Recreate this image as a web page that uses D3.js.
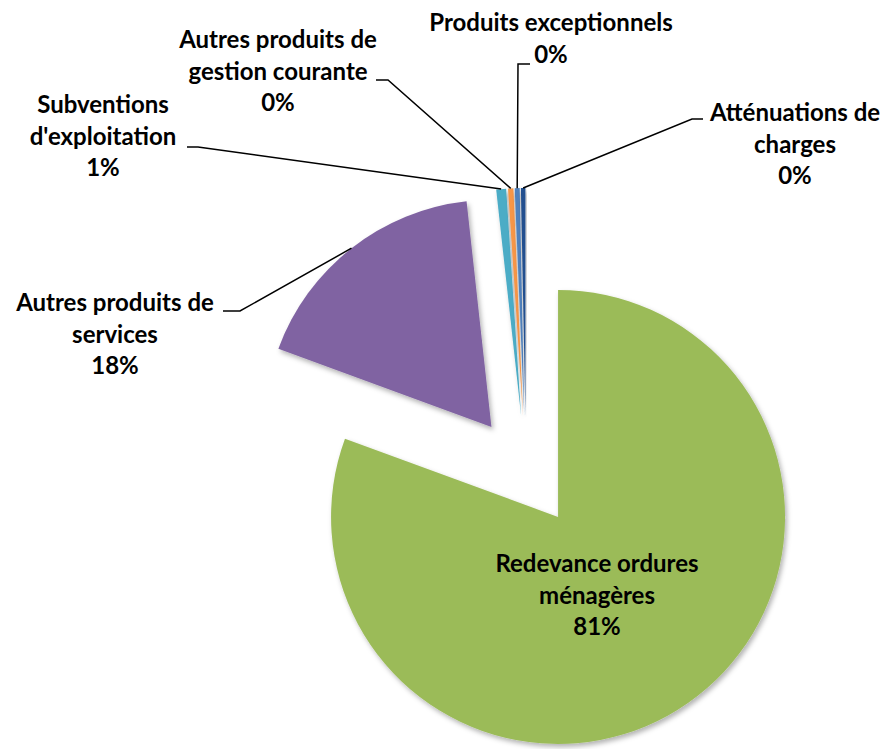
<!DOCTYPE html>
<html>
<head>
<meta charset="utf-8">
<script src="https://cdn.jsdelivr.net/npm/d3@7"></script>
<style>
  html, body { margin: 0; padding: 0; background: #fff; }
  svg text { font-family: Lato, "Open Sans", sans-serif; font-weight: bold; fill: #000; }
</style>
</head>
<body>
<svg id="chart" width="890" height="749"></svg>
<script>
// slices, clockwise from 12 o'clock (same order as the spreadsheet)
var categories = [
    "Redevance ordures ménagères",
    "Autres produits de services",
    "Subventions d'exploitation",
    "Autres produits de gestion courante",
    "Produits exceptionnels",
    "Atténuations de charges"
];
var values = [80.6, 17.65, 0.7, 0.38, 0.35, 0.32];
var colors = ["#9BBB59", "#8064A2", "#4BACC6", "#F79646", "#4F81BD", "#24508F"];

// how each label is broken into lines
var labelLines = [
    ["Redevance ordures", "ménagères"],
    ["Autres produits de", "services"],
    ["Subventions", "d'exploitation"],
    ["Autres produits de", "gestion courante"],
    ["Produits exceptionnels"],
    ["Atténuations de", "charges"]
];

// label placement: text centre x, first baseline y, leader elbow + end (null = inside slice)
var labelPos = [
    { x: 597, y: 572, leader: null },
    { x: 115, y: 311, leader: [[240, 311], [223, 311]] },
    { x: 103, y: 113, leader: [[198, 147], [187, 147]] },
    { x: 278, y: 48,  leader: [[388, 80], [376, 80]] },
    { x: 551, y: 31,  leader: [[518, 64], [530, 64]] },
    { x: 795, y: 121, leader: [[692, 119], [703, 119]] }
];

var cx = 526, cy = 471, radius = 227, explode = 56, lineH = 31.5;

var svg = d3.select("#chart");

var defs = svg.append("defs");
var shadow = defs.append("filter").attr("id", "shadow")
    .attr("x", "-20%").attr("y", "-20%").attr("width", "140%").attr("height", "140%");
shadow.append("feDropShadow")
    .attr("dx", 2).attr("dy", 3).attr("stdDeviation", 2.5)
    .attr("flood-color", "#000").attr("flood-opacity", 0.3);

var total = d3.sum(values);
var pie = d3.pie().sort(null).value(d => d)(values);
var arc = d3.arc().innerRadius(0).outerRadius(radius);

function offset(a, r) {
    return [Math.sin(a) * r, -Math.cos(a) * r];
}

var g = svg.append("g").attr("transform", "translate(" + cx + "," + cy + ")");

g.selectAll("path.slice")
    .data(pie)
    .enter().append("path")
    .attr("class", "slice")
    .attr("d", arc)
    .attr("fill", (d, i) => colors[i])
    .attr("filter", "url(#shadow)")
    .attr("transform", function (d) {
        var o = offset((d.startAngle + d.endAngle) / 2, explode);
        return "translate(" + o[0] + "," + o[1] + ")";
    });

// leader lines
pie.forEach(function (d, i) {
    var lp = labelPos[i];
    if (!lp.leader) return;
    var mid = (d.startAngle + d.endAngle) / 2;
    var s = offset(mid, radius + explode);
    var pts = [[cx + s[0], cy + s[1]]].concat(lp.leader);
    svg.append("path")
        .attr("d", d3.line()(pts))
        .attr("fill", "none")
        .attr("stroke", "#000")
        .attr("stroke-width", 1.5);
});

// labels
pie.forEach(function (d, i) {
    var lp = labelPos[i];
    var pct = Math.round(values[i] / total * 100) + "%";
    var lines = labelLines[i].concat([pct]);
    var t = svg.append("text")
        .attr("text-anchor", "middle")
        .attr("font-size", 24);
    lines.forEach(function (ln, k) {
        t.append("tspan")
            .attr("x", lp.x)
            .attr("y", lp.y + k * lineH)
            .text(ln);
    });
});
</script>
</body>
</html>
